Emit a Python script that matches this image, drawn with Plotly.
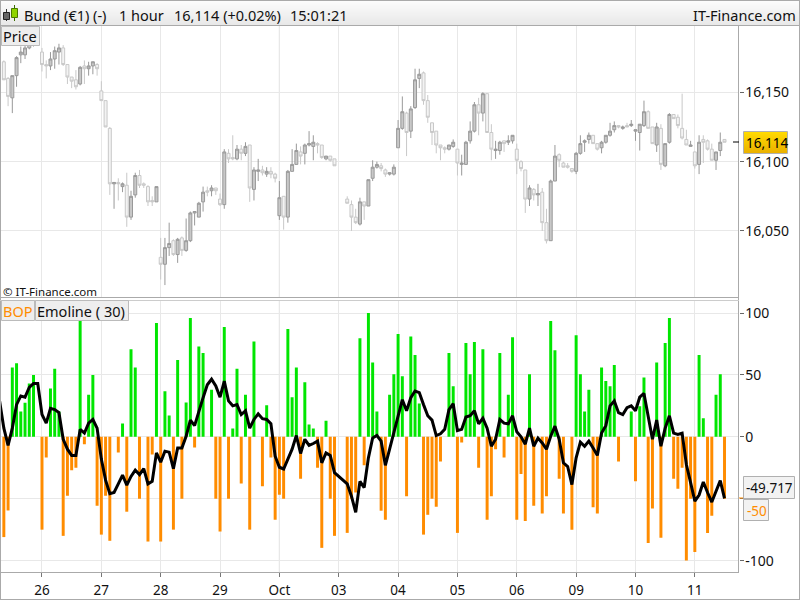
import plotly.graph_objects as go

bar_index = list(range(171))
line_index = list(range(-1, 171))
date_index = [9, 23, 37, 51, 65, 79, 93, 107, 121, 135, 149, 163]
date_labels = ["26", "27", "28", "29", "Oct", "03", "04", "05", "06", "09", "10", "11"]
price_ticks = [16050, 16100, 16150]
price_labels = ["16,050", "16,100", "16,150"]
bop_ticks = [-100, -50, 0, 50, 100]
bop_labels = ["-100", "", "0", "50", "100"]

opens = [16172,16160,16146,16162,16177,16177,16182,16185,16187,16179,
16170,16169,16174,16179,16182,16170,16161,16159,16156,16169,
16167,16169,16170,16151,16144,16124,16084,16085,16082,16083,
16060,16076,16090,16084,16082,16072,16071,16031,16026,16038,
16043,16033,16045,16036,16043,16063,16060,16071,16079,16079,
16081,16073,16069,16106,16103,16102,16109,16106,16112,16080,
16093,16094,16091,16093,16091,16061,16075,16060,16093,16098,
16107,16106,16112,16111,16113,16112,16102,16104,16102,None,
None,16073,16069,16060,16055,16071,16068,16088,16096,16097,
16094,16091,16091,16110,16124,16135,16122,16139,16160,16164,
16144,16128,16122,16112,16110,16109,16111,16109,16098,16098,
16115,16122,16141,16135,16149,16121,16108,16108,16115,16114,
16115,16109,16100,16094,16073,16080,16076,16078,16056,16043,
16086,16105,16099,16097,16095,16093,16106,16114,16116,16119,
16113,16110,16114,16119,16123,16126,16124,16126,16126,16122,
16121,16126,16136,16125,16112,16124,16097,16114,16134,16132,
16124,16116,16111,16107,16098,16116,16115,16109,16101,16108,16116]
highs = [16173,16161,16162,16176,16183,16184,16186,16189,16189,16182,
16173,16179,16183,16185,16184,16170,16161,16166,16169,16173,
16172,16172,16171,16158,16144,16125,16085,16088,16085,16092,
16079,16092,16094,16085,16083,16075,16082,16045,16045,16056,
16044,16045,16046,16059,16064,16064,16071,16082,16082,16083,
16081,16077,16109,16109,16119,16112,16112,16114,16112,16096,
16102,16097,16096,16096,16092,16086,16075,16094,16109,16113,
16111,16113,16122,16119,16114,16112,16104,16104,16102,None,
None,16075,16072,16066,16074,16071,16087,16101,16100,16099,
16095,16092,16098,16130,16147,16136,16140,16167,16167,16165,
16148,16128,16122,16112,16111,16112,16116,16109,16105,16115,
16129,16143,16146,16150,16149,16127,16115,16115,16115,16119,
16119,16113,16101,16094,16083,16081,16084,16081,16066,16087,
16112,16106,16100,16099,16095,16107,16119,16116,16121,16119,
16113,16115,16119,16128,16129,16126,16126,16128,16130,16123,
16127,16144,16137,16125,16128,16127,16113,16135,16134,16134,
16149,16123,16115,16107,16119,16119,16116,16113,16107,16121,16116]
lows = [16159,16140,16135,16154,16171,16174,16181,16183,16185,16165,
16160,16166,16167,16170,16169,16156,16153,16152,16155,16156,
16162,16163,16162,16144,16125,16076,16066,16072,16078,16053,
16058,16074,16081,16081,16068,16068,16071,16015,16011,16032,
16032,16027,16032,16035,16042,16054,16060,16064,16075,16075,
16076,16068,16066,16099,16101,16101,16101,16104,16071,16072,
16086,16090,16089,16088,16085,16058,16051,16056,16093,16098,
16098,16098,16111,16101,16106,16102,16101,16100,16097,None,
None,16070,16050,16055,16054,16058,16068,16086,16095,16093,
16089,16090,16090,16110,16123,16104,16117,16138,16153,16141,
16128,16112,16106,16101,16106,16108,16110,16090,16090,16098,
16113,16121,16119,16129,16121,16101,16102,16105,16107,16112,
16113,16091,16093,16063,16068,16072,16068,16050,16041,16043,
16086,16096,16096,16095,16092,16091,16105,16107,16113,16113,
16108,16106,16113,16118,16121,16124,16123,16125,16125,16115,
16108,16125,16124,16113,16107,16094,16096,16113,16131,16124,
16116,16112,16111,16095,16091,16099,16108,16101,16094,16104,16114]
closes = [16159,16147,16162,16175,16179,16182,16185,16187,16188,16170,
16169,16174,16180,16182,16170,16161,16158,16154,16168,16167,
16169,16172,16167,16144,16125,16084,16085,16084,16084,16060,
16075,16090,16083,16083,16071,16071,16082,16026,16038,16041,
16033,16044,16036,16043,16063,16064,16070,16078,16078,16081,
16079,16069,16107,16102,16102,16109,16106,16111,16081,16094,
16094,16092,16093,16091,16088,16074,16060,16093,16098,16108,
16104,16112,16113,16114,16112,16103,16104,16101,16097,None,
None,16070,16060,16056,16071,16068,16087,16096,16098,16095,
16091,16092,16096,16124,16136,16121,16138,16159,16163,16144,
16132,16121,16112,16110,16109,16112,16114,16099,16099,16114,
16122,16141,16135,16149,16121,16109,16109,16114,16113,16115,
16119,16101,16095,16073,16081,16076,16077,16056,16043,16086,
16104,16101,16096,16096,16093,16106,16113,16115,16119,16113,
16109,16114,16119,16122,16126,16125,16125,16125,16127,16123,
16127,16136,16124,16113,16125,16098,16113,16134,16131,16126,
16117,16112,16112,16097,16114,16114,16109,16101,16107,16114,16114]

bop = [-81,-59.5,56,59.5,20.5,27.6,43,50,0,-75,
-16.8,39,55,20.5,-80,-47.6,-27,-25,93.5,-6,
34,50,-55.7,-79,-47.6,-84,0,-12.7,10.8,-60.5,
70.8,56,-50,0,-84.6,-14.3,92,-84.6,36.8,17.3,
-75,62,-50,27.8,96,-8.6,73,67.6,0,38,
-50,-76.5,88.6,-50,6.8,55,-37.8,34,-75,77,
0,-40,25.4,-16.8,-67,-46.8,-50,87,32,56,
-33.8,44,10,6.8,-25,-89.7,13,-50,-80,None,
None,-77.6,-50,-45,79.7,-23,100,60,20.5,-59.7,
-67,34,50.5,83,49,-48,81,66,27,-79,
-63,-50,-56.5,-20,0,67.6,40.8,-77.6,-4.6,75.7,
50.5,76.5,-25,70.8,-67,-48,-10,67.6,-16.8,34,
80.5,-67,-30,-68,50.5,-55.7,0,-62,-48,93.5,
70,-33.8,-62,0,-75,82,50.5,20.5,38,-57,
-62,56,45,40.8,58,-20,0,0,20.5,-36,
24.6,48,-85.7,-58,60,-81.6,75.7,96,-33.8,-42,
-25,-100,-50,-93,66,14.9,-77.6,-63.8,34,50.5,-50]

emoline = [29,7,-7,7,26,33,32,40,43,43,18,
11,23,22,19.5,-2,-10,-15,-15,6,3,
11,14,7,-18,-35,-46,-45,-38,-31,-39,
-32,-27,-30.5,-25.7,-38,-36,-13,-20.5,-11.6,-12.4,
-25.7,-9,-9,0.5,13.5,9,21,31.6,42,46.5,
41,32,45,29,25,26,18,21,7,14,
18.6,14.6,14,10.5,-15.7,-24.6,-26,-18,-10,1,
-13.5,-2,-7,-5.4,-3.5,-21,-13,-15,-29,None,
None,-38,-48,-61,-36,-41,-17,-1,1,-3.5,
-23,-10,3,18,30,21,31.6,37,35.7,26,
17,13.5,1,2.4,6,22,26.8,5,6,16,
17,21,10.5,15,7,-7.6,-2,14,11,10.5,
17,4,0,-6,7,-7.6,-1,-5,-10,0.5,
8.6,-2,-21,-24,-38.6,-17,-4.3,-7.6,-3.5,-9,
-15,3,9,25,29,19.5,18,23.5,25,21,
32,35,17,-2,13.5,-7.6,7,17,3,2,
3,-22.4,-37,-52,-47,-36.5,-45,-52.7,-44,-35.4,-49.717]

FONT = "Noto Sans"
GRID = "#e8e8e8"
AXIS = "#aaaaaa"

def X(p):
    return p / 800
def Y(p):
    return 1 - p / 600

shapes = []
annots = []

def rect(x0, y0, x1, y1, fill=None, line=None, width=1):
    shapes.append(dict(type="rect", xref="paper", yref="paper", x0=X(x0), x1=X(x1), y0=Y(y0), y1=Y(y1),
                       fillcolor=fill or "rgba(0,0,0,0)", line=dict(color=line or "rgba(0,0,0,0)", width=width if line else 0), layer="above"))

def seg(x0, y0, x1, y1, color, width=1):
    shapes.append(dict(type="line", xref="paper", yref="paper", x0=X(x0), x1=X(x1), y0=Y(y0), y1=Y(y1),
                       line=dict(color=color, width=width), layer="above"))

def text(x, y, s, size=14, color="#111111", anchor="left"):
    annots.append(dict(xref="paper", yref="paper", x=X(x), y=Y(y), text=s, showarrow=False, xanchor=anchor,
                       yanchor="middle", borderpad=0, font=dict(family=FONT, size=size, color=color)))

# header strip with stepped gradient
for k in range(1, 25):
    g = 252 - int(k * 0.85)
    rect(0, k, 800, k + 1, fill=f"rgb({g},{g},{g})")
seg(0, 25.5, 800, 25.5, AXIS)
seg(0, 0.5, 800, 0.5, AXIS)
seg(0.5, 0, 0.5, 600, AXIS)
seg(799.5, 0, 799.5, 600, AXIS)
seg(0, 599.5, 800, 599.5, AXIS)
seg(738.5, 26, 738.5, 572, AXIS)
seg(0, 297.5, 739, 297.5, AXIS)
seg(0, 300.5, 739, 300.5, "#cccccc")
seg(0, 572.5, 739, 572.5, AXIS)

# toolbar icon
seg(6.5, 9, 6.5, 21, "#333333")
rect(3.5, 12.5, 9.5, 19.5, fill="#666666", line="#222222")
seg(14.5, 5, 14.5, 21, "#3c6e00")
rect(11.5, 8.5, 17.5, 17.5, fill="#8fd400", line="#4a7a00")

text(23, 14.5, "Bund (€1) (-)", 14.5)
text(118, 14.5, "1 hour", 14.5)
text(173, 14.5, "16,114 (+0.02%)", 14.5)
text(289, 14.5, "15:01:21", 14.5)
text(797, 14.5, "IT-Finance.com", 14.5, anchor="right")

# panel tags
rect(1.5, 26.5, 39.5, 45.5, fill="#eeeeee", line="#bbbbbb")
text(2, 36.5, "Price", 14.5)
text(2, 291.5, "© IT-Finance.com", 11.5)
rect(1.5, 300.5, 34.5, 320.5, fill="#eeeeee", line="#bbbbbb")
text(2, 311, "BOP", 14.5, "#ff8c00")
rect(35.5, 300.5, 128.5, 320.5, fill="#eeeeee", line="#bbbbbb")
text(36, 311, "Emoline ( 30)", 14.5)

# last price tag
for k in range(22):
    rect(744, 132 + k, 787, 133 + k, fill=f"rgb({255 - k},{218 - 2 * k},0)")
rect(743.5, 131.5, 787.5, 153.5, line="#b0b0b0")
text(745, 143, "16,114", 13.5, "#000000")
seg(733, 142, 739, 142, "#000000")

# indicator tags
rect(743.5, 476.5, 794.5, 498.5, fill="#f2f2f2", line="#b0b0b0")
text(745, 488, "-49.717", 13.5)
rect(743.5, 499.5, 768.5, 520.5, fill="#f2f2f2", line="#b0b0b0")
text(745.5, 511, "-50", 13.5, "#ff8c00")
seg(739, 498, 743, 498, "#ff8c00")

fig = go.Figure()
fig.add_trace(go.Candlestick(
    x=bar_index, open=opens, high=highs, low=lows, close=closes,
    xaxis="x", yaxis="y", whiskerwidth=0,
    increasing=dict(line=dict(color="#999999", width=1), fillcolor="#c8c8c8"),
    decreasing=dict(line=dict(color="#c8c8c8", width=1), fillcolor="#f3f3f3"),
    showlegend=False, hoverinfo="skip"))
fig.add_trace(go.Bar(
    x=bar_index, y=bop, xaxis="x2", yaxis="y2", width=0.7,
    marker=dict(color=["#00e600" if (v or 0) > 0 else "#ff8c00" for v in bop], line=dict(width=0)),
    showlegend=False, hoverinfo="skip"))
fig.add_trace(go.Scatter(
    x=line_index, y=emoline, xaxis="x2", yaxis="y2", mode="lines", connectgaps=True,
    line=dict(color="#000000", width=3), showlegend=False, hoverinfo="skip"))

xrange_ = [-0.67, 173.3]
common_x = dict(range=xrange_, tickmode="array", tickvals=date_index, showgrid=True, gridcolor=GRID, gridwidth=1,
                zeroline=False, showline=False, domain=[X(1), X(738.5)])
# Oct separator is slightly darker
for xr, yr in (("x", "y domain"), ("x2", "y2 domain")):
    shapes.append(dict(type="line", xref=xr, yref=yr, x0=date_index[4], x1=date_index[4], y0=0, y1=1,
                       line=dict(color="#cccccc", width=1), layer="below"))

fig.update_layout(
    width=800, height=600, margin=dict(l=0, r=0, t=0, b=0, autoexpand=False),
    paper_bgcolor="#ffffff", plot_bgcolor="#ffffff",
    font=dict(family=FONT, size=14, color="#111111"),
    boxgap=0.0, bargap=0.3, barmode="overlay",
    shapes=shapes, annotations=annots,
    xaxis=dict(anchor="y", ticktext=[""] * len(date_index), ticks="", rangeslider=dict(visible=False), **common_x),
    xaxis2=dict(anchor="y2", ticktext=date_labels, ticks="outside", ticklen=4, tickcolor="#777777",
                tickfont=dict(family=FONT, size=13.5, color="#111111"), ticklabelstandoff=2, **common_x),
    yaxis=dict(domain=[Y(297), Y(26)], range=[16002.4, 16197.8], side="right", anchor="x",
               tickmode="array", tickvals=price_ticks, ticktext=price_labels, ticks="outside", ticklen=4,
               tickcolor="#666666", tickfont=dict(family=FONT, size=14, color="#111111"), ticklabelstandoff=-1,
               showgrid=True, gridcolor=GRID, zeroline=False, showline=False),
    yaxis2=dict(domain=[Y(572), Y(300)], range=[-109.2, 110.5], side="right", anchor="x2",
                tickmode="array", tickvals=bop_ticks, ticktext=bop_labels, ticks="outside", ticklen=4,
                tickcolor="#666666", tickfont=dict(family=FONT, size=14, color="#111111"), ticklabelstandoff=-1,
                showgrid=True, gridcolor=GRID, zeroline=False, showline=False),
)

fig.write_html("out.html", post_script="document.body.style.margin='0';", config=dict(displayModeBar=False))
